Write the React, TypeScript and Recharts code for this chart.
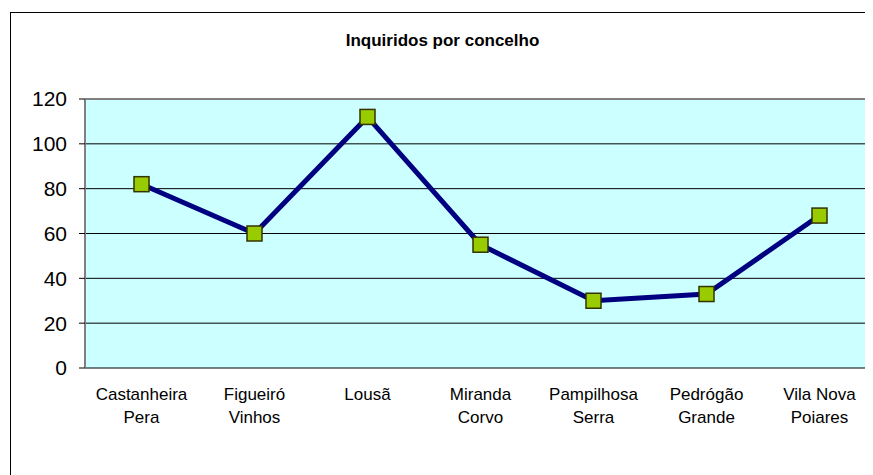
import React, { useLayoutEffect } from "react";
import { LineChart, Line, XAxis, YAxis, CartesianGrid, ReferenceLine } from "recharts";

const categories = [
  ["Castanheira", "Pera"],
  ["Figueiró", "Vinhos"],
  ["Lousã", ""],
  ["Miranda", "Corvo"],
  ["Pampilhosa", "Serra"],
  ["Pedrógão", "Grande"],
  ["Vila Nova", "Poiares"],
];
const inquiridos = [82, 60, 112, 55, 30, 33, 68];
const yTicks = [0, 20, 40, 60, 80, 100, 120];
const boundaryTicks = [0, 1, 2, 3, 4, 5, 6, 7];
const title = "Inquiridos por concelho";

const data = categories.map((c, i) => ({ name: c.join("\n"), value: inquiridos[i] }));

const FONT = "Arial, 'Liberation Sans', sans-serif";

const CatTick = (props: any) => {
  const { x, y, payload } = props;
  const lines = String(payload.value).split("\n");
  return (
    <text x={x} y={y} textAnchor="middle" fontFamily={FONT} fontSize={17} fill="#000">
      {lines.map((l, i) => (
        <tspan key={i} x={x} dy={i === 0 ? 32 : 22.6}>
          {l}
        </tspan>
      ))}
    </text>
  );
};

const SquareDot = (props: any) => {
  const { cx, cy } = props;
  if (cx == null || cy == null) return null;
  return <rect x={cx - 7.5} y={cy - 7.5} width={15} height={15} fill="#99CC00" stroke="#333300" strokeWidth={1.5} />;
};

export default function App() {
  useLayoutEffect(() => {
    document.documentElement.style.overflow = "hidden";
    document.body.style.overflow = "hidden";
  }, []);
  return (
    <div
      style={{
        position: "relative",
        width: 900,
        height: 500,
        background: "#fff",
      }}
    >
      <div
        style={{
          position: "absolute",
          left: 2,
          top: 4,
          width: 900,
          height: 600,
          border: "1px solid #000",
          borderRight: "none",
          borderBottom: "none",
          boxSizing: "border-box",
        }}
      />
      <div
        style={{
          position: "absolute",
          left: 0,
          width: 869,
          top: 23,
          textAlign: "center",
          fontFamily: FONT,
          fontWeight: "bold",
          fontSize: 17,
          lineHeight: "20px",
          color: "#000",
        }}
      >
        {title}
      </div>
      <div style={{ position: "absolute", left: 0, top: 0 }}>
        <LineChart width={900} height={500} data={data} margin={{ top: 91, right: 32, left: 17, bottom: 100 }}>
          <CartesianGrid vertical={false} horizontal={true} stroke="#000" strokeWidth={1} fill="#CCFFFF" fillOpacity={1} />
          <XAxis
            xAxisId="num"
            type="number"
            domain={[0, 7]}
            ticks={boundaryTicks}
            tick={false}
            tickSize={6}
            height={0}
            axisLine={{ stroke: "#808080", strokeWidth: 2 }}
            tickLine={{ stroke: "#000" }}
            allowDataOverflow
          />
          <XAxis
            xAxisId="lab"
            dataKey="name"
            scale="band"
            interval={0}
            tick={<CatTick />}
            tickLine={false}
            axisLine={false}
            tickSize={0}
            tickMargin={0}
            height={40}
          />
          <YAxis
            domain={[0, 120]}
            ticks={yTicks}
            interval={0}
            width={60}
            tickSize={6}
            tickMargin={12}
            axisLine={{ stroke: "#808080", strokeWidth: 2 }}
            tickLine={{ stroke: "#000" }}
            tick={{ fontFamily: FONT, fontSize: 21, fill: "#000" }}
          />
          <ReferenceLine y={120} xAxisId="lab" stroke="#808080" strokeWidth={2} />
          <Line
            xAxisId="lab"
            dataKey="value"
            stroke="#000080"
            strokeWidth={5}
            dot={<SquareDot />}
            activeDot={false}
            isAnimationActive={false}
          />
        </LineChart>
      </div>
    </div>
  );
}
